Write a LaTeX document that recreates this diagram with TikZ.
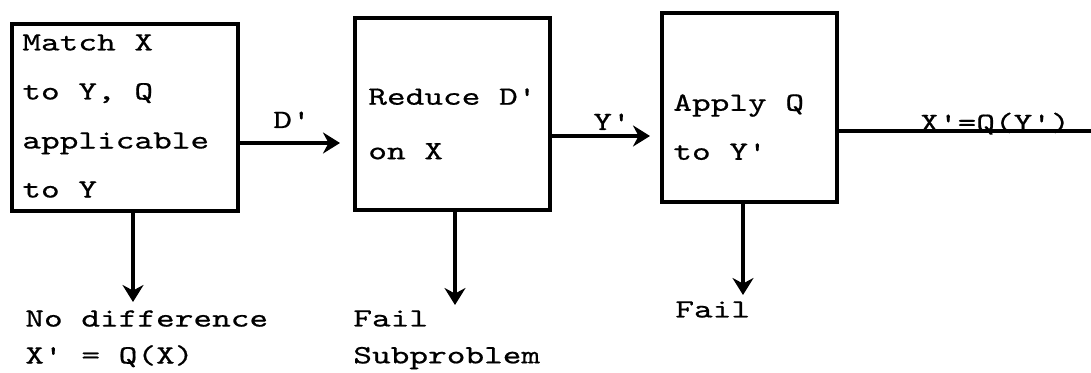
\documentclass[tikz,border=0pt]{standalone}
\usepackage{fontspec}
\setmonofont{lmmono10-regular.otf}[FakeStretch=1.35,FakeBold=0.6]
\usetikzlibrary{arrows.meta,scopes}

\begin{document}
\begin{tikzpicture}[every node/.style={font=\ttfamily\fontsize{15}{21}\selectfont, inner sep=0pt}]
    \useasboundingbox (0,0) rectangle (21.82,-7.46);
    {[every node/.append style={draw, line width=2.4pt}]
    \node[minimum width=4.52cm, minimum height=3.74cm] (match) at (2.50,-2.35) {};
    \node[minimum width=3.90cm, minimum height=3.84cm] (reduce) at (9.05,-2.28) {};
    \node[minimum width=3.50cm, minimum height=3.78cm] (apply) at (14.99,-2.15) {};
    }
    {[every node/.append style={anchor=north west, align=left}]
    \node (match-text) at (0.44,-0.68) {Match X\\[6.9pt]to Y, Q\\[6.9pt]applicable\\[6.9pt]to Y};
    \node (reduce-text) at (7.36,-1.76) {Reduce D'\\[10pt]on X};
    \node (apply-text) at (13.46,-1.88) {Apply Q\\[6.9pt]to Y'};
    \node (match-out) at (0.50,-6.20) {No difference\\X' = Q(X)};
    \node (reduce-out) at (7.06,-6.20) {Fail\\Subproblem};
    \node (apply-out) at (13.50,-6.02) {Fail};
    }
    % free ends of the connectors
    \coordinate (d-end) at (6.80,-2.86);
    \coordinate (y-end) at (13.00,-2.72);
    \coordinate (x-end) at (21.82,-2.62);
    \coordinate (match-down) at (2.66,-6.04);
    \coordinate (reduce-down) at (9.10,-6.10);
    \coordinate (apply-down) at (14.86,-5.90);
    {[line width=2.4pt, -{Stealth[length=0.34cm, width=0.42cm]}]
      \draw (match.east |- d-end) -- (d-end);
      \draw (reduce.east |- y-end) -- (y-end);
      \draw (match.south -| match-down) -- (match-down);
      \draw (reduce.south -| reduce-down) -- (reduce-down);
      \draw (apply.south -| apply-down) -- (apply-down);
    }
    \draw[line width=2.4pt] (apply.east |- x-end) -- (x-end);
    {[every node/.append style={anchor=base}]
    \node (d-label) at (5.84,-2.56) {D'};
    \node (y-label) at (12.24,-2.60) {Y'};
    \node (x-label) at (19.90,-2.62) {X'=Q(Y')};
    }
  \end{tikzpicture}
\end{document}
